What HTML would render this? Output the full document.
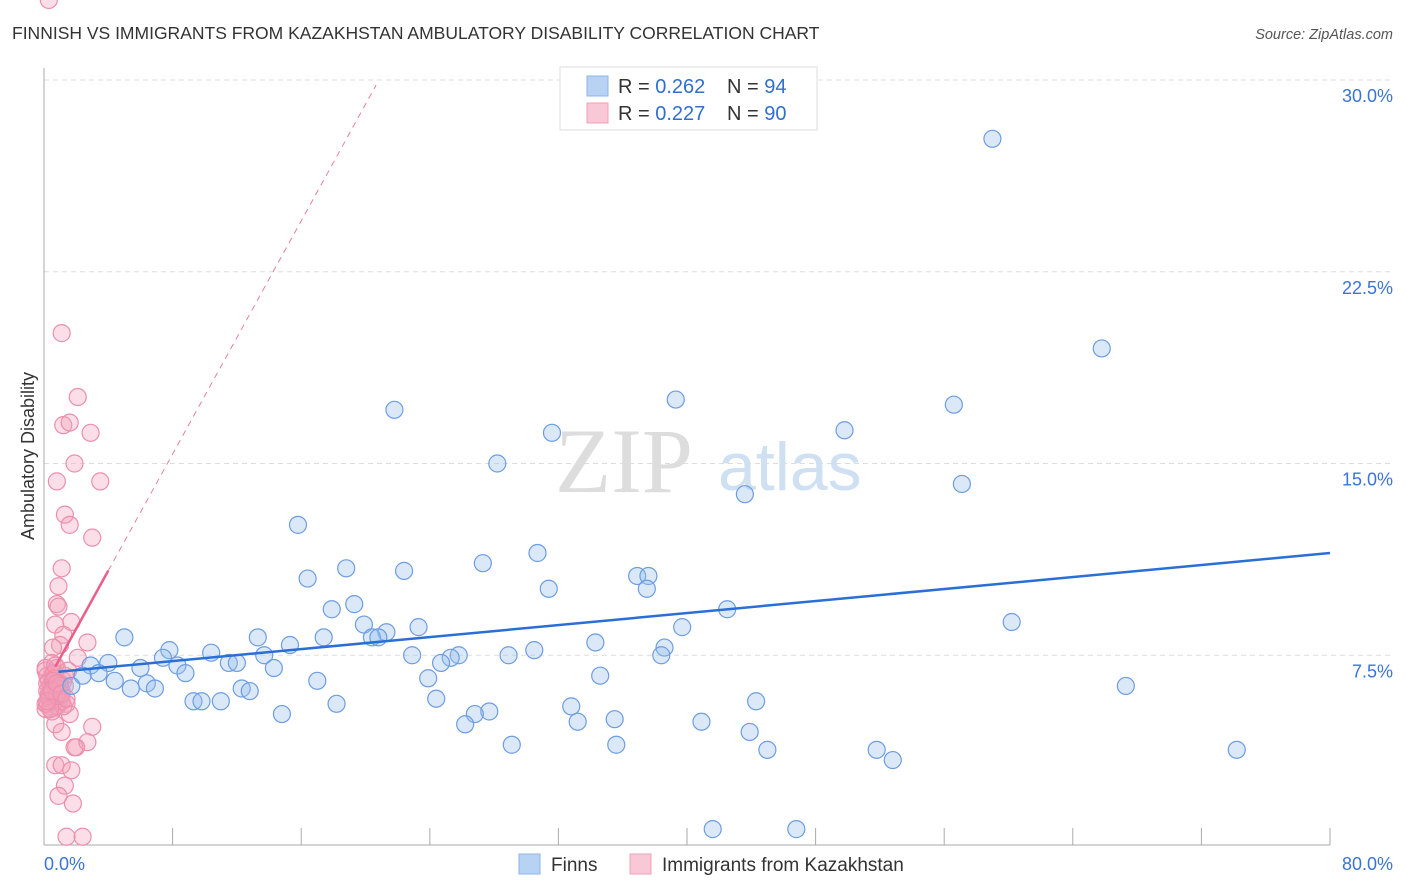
<!DOCTYPE html>
<html><head><meta charset="utf-8"><style>
body{margin:0;background:#fff;font-family:"Liberation Sans",sans-serif}
svg{display:block}
</style></head><body>
<svg id="chart" width="1406" height="892">
<text x="12" y="39" font-size="17.5" fill="#333">FINNISH VS IMMIGRANTS FROM KAZAKHSTAN AMBULATORY DISABILITY CORRELATION CHART</text>
<text x="1393" y="39" font-size="14.5" fill="#555" font-style="italic" text-anchor="end">Source: ZipAtlas.com</text>
<text transform="translate(34,456) rotate(-90)" font-size="18" fill="#333" text-anchor="middle">Ambulatory Disability</text>
<g id="grid"></g>
<g>
<text x="555" y="492" font-size="92" font-family="Liberation Serif,serif" fill="#ddd">ZIP</text>
<text x="718" y="490" font-size="68" fill="#cfe0f3">atlas</text>
</g>
<g id="axes"></g>
<g id="pts"></g>
<g id="lines"></g>
<g>
<rect x="560" y="67" width="257" height="63" fill="#fff" stroke="#ddd"/>
<rect x="587" y="76" width="21" height="20" fill="#b8d2f4" stroke="#8db4ea"/>
<rect x="587" y="103" width="21" height="20" fill="#f9c8d7" stroke="#f0a0b9"/>
<text x="618" y="93" font-size="20" fill="#333">R = <tspan fill="#2f6fd0">0.262</tspan></text>
<text x="727" y="93" font-size="20" fill="#333">N = <tspan fill="#2f6fd0"> 94</tspan></text>
<text x="618" y="120" font-size="20" fill="#333">R = <tspan fill="#2f6fd0">0.227</tspan></text>
<text x="727" y="120" font-size="20" fill="#333">N = <tspan fill="#2f6fd0"> 90</tspan></text>
</g>
<g>
<rect x="519" y="854" width="21" height="20" fill="#b8d2f4" stroke="#8db4ea"/>
<text x="551" y="871" font-size="19" fill="#333">Finns</text>
<rect x="630" y="854" width="21" height="20" fill="#f9c8d7" stroke="#f0a0b9"/>
<text x="662" y="871" font-size="19" fill="#333">Immigrants from Kazakhstan</text>
</g>
</svg>
<script>
const yTicks=[7.5,15,22.5,30];
const yTickLabels=["7.5%","15.0%","22.5%","30.0%"];
const xTickCount=10;
const xEndLabels=["0.0%","80.0%"];
const finnsX=[59.0,65.8,56.6,39.3,21.8,49.8,31.6,28.2,57.1,43.6,15.8,30.7,27.3,18.8,22.4,16.4,36.9,37.6,31.4,37.5,19.3,17.9,42.5,60.2,19.9,23.3,39.7,21.3,20.4,20.8,5.0,17.4,13.3,15.3,34.3,7.8,38.6,30.5,10.4,13.7,22.9,25.8,28.9,25.3,38.4,7.4,24.7,4.0,11.5,12.0,8.3,2.9,14.3,6.0,3.4,8.8,2.4,34.6,23.9,4.4,17.0,6.4,1.7,5.4,67.3,6.9,12.3,12.8,24.4,9.3,9.8,11.0,18.2,44.3,32.8,27.7,26.8,14.8,35.5,33.2,40.9,26.2,43.9,29.1,35.6,45.0,51.8,74.2,52.8,41.6,46.8];
const finnsY=[27.7,19.5,17.3,17.5,17.1,16.3,16.2,15.0,14.2,13.8,12.6,11.5,11.1,10.9,10.8,10.5,10.6,10.6,10.1,10.1,9.5,9.3,9.3,8.8,8.7,8.6,8.6,8.4,8.2,8.2,8.2,8.2,8.2,7.9,8.0,7.7,7.8,7.7,7.6,7.5,7.5,7.5,7.5,7.4,7.5,7.4,7.2,7.2,7.2,7.2,7.1,7.1,7.0,7.0,6.8,6.8,6.7,6.7,6.6,6.5,6.5,6.4,6.3,6.2,6.3,6.2,6.2,6.1,5.8,5.7,5.7,5.7,5.6,5.7,5.5,5.3,5.2,5.2,5.0,4.9,4.9,4.8,4.5,4.0,4.0,3.8,3.8,3.8,3.4,0.7,0.7];
const kazX=[1.1,2.1,1.2,1.6,2.9,1.9,0.8,3.5,1.3,1.6,3.0,1.1,0.9,0.8,0.9,1.7,0.7,1.2,2.7,1.0,0.56,2.1,0.5,1.4,1.6,0.7,1.1,3.0,2.0,1.9,2.7,0.7,1.1,1.7,1.3,0.9,1.8,1.4,2.4,
0.1,0.2,0.3,0.4,0.5,0.6,0.7,0.8,0.9,1.0,0.1,0.2,0.3,0.4,0.5,0.6,0.7,0.8,0.9,1.0,1.1,1.2,1.3,0.1,0.2,0.3,0.4,0.5,0.6,0.7,0.8,1.0,1.2,0.1,0.3,0.5,0.7,0.9,1.1,1.3,1.5,0.2,0.4,0.6,0.8,1.0,0.2,0.5,0.8,1.1,1.4,0.3];
const kazY=[20.1,17.6,16.5,16.6,16.2,15.0,14.3,14.3,13.0,12.6,12.1,10.9,10.2,9.5,9.4,8.8,8.7,8.3,8.0,7.9,7.8,7.4,7.2,5.6,5.2,4.8,4.5,4.7,3.9,3.9,4.1,3.2,3.2,3.0,2.4,2.0,1.7,0.4,0.4,
6.9,6.7,6.5,6.3,6.1,5.9,5.7,5.5,6.0,6.4,5.4,5.6,5.8,6.0,6.2,6.6,6.8,7.0,6.3,5.9,6.1,6.5,6.7,7.0,6.4,6.0,5.5,5.3,6.8,7.1,6.2,5.8,5.5,5.6,5.9,6.2,6.6,6.0,5.7,6.3,6.9,6.1,5.4,6.5,5.9,6.3,5.7,6.1,6.4,6.0,5.8];
const finnsTrend=[6.8,11.5];
const kazTrend=[6.25,1.14];
const X0=44,X1=1330,Y0=847,YS=767/30;
const sx=v=>X0+(v/80)*(X1-X0);
const sy=v=>Y0-v*YS;
const NS="http://www.w3.org/2000/svg";
function mk(tag,attrs,parent){const e=document.createElementNS(NS,tag);for(const k in attrs)e.setAttribute(k,attrs[k]);parent.appendChild(e);return e;}
const grid=document.getElementById('grid'),axes=document.getElementById('axes'),pts=document.getElementById('pts'),lines=document.getElementById('lines');
yTicks.forEach((t,i)=>{
 const l=mk('line',{x1:X0,x2:1393,y1:sy(t),y2:sy(t),stroke:'#ddd','stroke-dasharray':'5,4'},grid);
 
 
 const tx=mk('text',{x:1393,y:sy(t)+22,'font-size':18,fill:'#3a74d4','text-anchor':'end'},axes);
 tx.textContent=yTickLabels[i];
 
 
});
mk('line',{x1:X0,x2:X0,y1:68,y2:845,stroke:'#aaa'},axes);
mk('line',{x1:X0,x2:X1,y1:845,y2:845,stroke:'#aaa'},axes);
for(let i=1;i<=xTickCount;i++){
 const x=sx(i*80/xTickCount);
 const l=mk('line',{x1:x,x2:x,y1:828,y2:845,stroke:'#aaa'},axes);
 
 
}
const xl0=mk('text',{x:44,y:870,'font-size':18,fill:'#3a74d4'},axes);xl0.textContent=xEndLabels[0];


const xl1=mk('text',{x:1393,y:870,'font-size':18,fill:'#3a74d4','text-anchor':'end'},axes);xl1.textContent=xEndLabels[1];


kazX.forEach((x,i)=>{
 const c=mk('circle',{cx:sx(x),cy:sy(kazY[i]),r:8.5,fill:'rgba(244,160,186,0.35)',stroke:'#ec8fad','stroke-width':1.2},pts);
 
 
});
finnsX.forEach((x,i)=>{
 const c=mk('circle',{cx:sx(x),cy:sy(finnsY[i]),r:8.5,fill:'rgba(150,188,236,0.35)',stroke:'#6d9de2','stroke-width':1.2},pts);
 
 
});
const bl=mk('line',{x1:sx(0.9),y1:sy(finnsTrend[0]+(finnsTrend[1]-finnsTrend[0])*0.9/80),x2:sx(80),y2:sy(finnsTrend[1]),stroke:'#2a6fd6','stroke-width':2.5},lines);


const kxe=(29.8-kazTrend[0])/kazTrend[1];
const pd=mk('line',{x1:sx(4),y1:sy(kazTrend[0]+kazTrend[1]*4),x2:sx(kxe),y2:sy(29.8),stroke:'#e87fa0','stroke-width':1,'stroke-dasharray':'6,5'},lines);


const ps=mk('line',{x1:sx(0.7),y1:sy(kazTrend[0]+kazTrend[1]*0.7),x2:sx(4),y2:sy(kazTrend[0]+kazTrend[1]*4),stroke:'#e8608a','stroke-width':2.5},lines);


</script>
</body></html>
